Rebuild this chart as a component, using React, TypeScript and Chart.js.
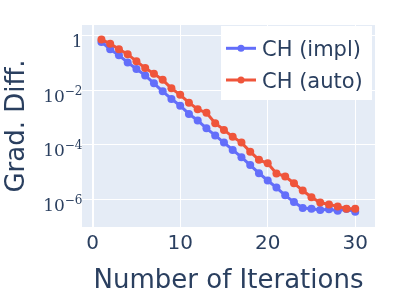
import React, { useEffect, useRef } from "react";
import { Chart, registerables } from "chart.js";

Chart.register(...registerables);

const iterations = [1, 2, 3, 4, 5, 6, 7, 8, 9, 10, 11, 12, 13, 14, 15, 16, 17, 18, 19, 20, 21, 22, 23, 24, 25, 26, 27, 28, 29, 30];

const implValues = [
  0.59, 0.32, 0.19, 0.105, 0.06, 0.035, 0.018, 0.0091, 0.0048, 0.0027,
  1.35e-3, 7.8e-4, 4.0e-4, 2.2e-4, 1.2e-4, 6.5e-5, 3.5e-5, 1.8e-5, 9.1e-6, 4.9e-6,
  2.7e-6, 1.4e-6, 7.9e-7, 4.8e-7, 4.5e-7, 4.1e-7, 4.3e-7, 3.8e-7, 4.4e-7, 3.5e-7,
];

const autoValues = [
  0.72, 0.51, 0.32, 0.21, 0.115, 0.065, 0.04, 0.024, 0.0117, 0.0068,
  3.5e-3, 2.0e-3, 1.48e-3, 6.2e-4, 3.5e-4, 1.95e-4, 1.2e-4, 5.6e-5, 2.8e-5, 2.1e-5,
  8.9e-6, 6.9e-6, 3.9e-6, 2.1e-6, 1.19e-6, 7.6e-7, 6.5e-7, 5.5e-7, 4.5e-7, 4.5e-7,
];

const seriesNames = ["CH (impl)", "CH (auto)"];
const seriesColors = ["#636efa", "#ef553b"];

const xTicks = [0, 10, 20, 30];
const yTicks = [1e-6, 1e-4, 1e-2, 1];

const xTitle = "Number of Iterations";
const yTitle = "Grad. Diff.";

const TEXT = "#2a3f5f";

const decorPlugin = {
  id: "decor",
  beforeDraw(chart: any) {
    const { ctx, chartArea } = chart;
    ctx.save();
    ctx.fillStyle = "#ffffff";
    ctx.fillRect(0, 0, chart.width, chart.height);
    ctx.fillStyle = "#e5ecf6";
    ctx.fillRect(chartArea.left, chartArea.top, chartArea.right - chartArea.left, chartArea.bottom - chartArea.top);
    ctx.restore();
  },
  afterDraw(chart: any) {
    const { ctx, chartArea } = chart;
    const yScale = chart.scales.y;
    ctx.save();
    ctx.fillStyle = TEXT;
    // y tick labels with superscripts
    const rightX = chartArea.left + 0.5;
    for (const v of yTicks) {
      const py = yScale.getPixelForValue(v);
      const e = Math.round(Math.log10(v));
      const base = py + 11.5;
      ctx.textBaseline = "alphabetic";
      ctx.textAlign = "left";
      if (e === 0) {
        ctx.font = "17px 'DejaVu Serif'";
        const w = ctx.measureText("1").width;
        ctx.fillText("1", rightX - w, base);
      } else {
        const sup = (e < 0 ? "\u2212" : "") + Math.abs(e);
        ctx.font = "12px 'DejaVu Serif'";
        const ws = ctx.measureText(sup).width;
        ctx.font = "17px 'DejaVu Serif'";
        const wb = ctx.measureText("10").width;
        ctx.fillText("10", rightX - ws - wb, base);
        ctx.font = "12px 'DejaVu Serif'";
        ctx.fillText(sup, rightX - ws, base - 7);
      }
    }
    // axis titles
    ctx.font = "26px 'DejaVu Sans'";
    ctx.textAlign = "center";
    ctx.textBaseline = "alphabetic";
    ctx.fillText(xTitle, (chartArea.left + chartArea.right) / 2, 288);
    ctx.save();
    ctx.translate(24, (chartArea.top + chartArea.bottom) / 2);
    ctx.rotate(-Math.PI / 2);
    ctx.fillText(yTitle, 0, 0);
    ctx.restore();
    // legend
    ctx.fillStyle = "#ffffff";
    ctx.fillRect(221, 26, 151, 74);
    const rows = [48.3, 80];
    chart.data.datasets.forEach((ds: any, i: number) => {
      const idx = seriesNames.indexOf(ds.label);
      const cy = rows[idx];
      ctx.strokeStyle = ds.borderColor;
      ctx.lineWidth = 3;
      ctx.beginPath();
      ctx.moveTo(226, cy);
      ctx.lineTo(256, cy);
      ctx.stroke();
      ctx.fillStyle = ds.borderColor;
      ctx.beginPath();
      ctx.arc(241, cy, 3.5, 0, Math.PI * 2);
      ctx.fill();
      ctx.fillStyle = TEXT;
      ctx.font = "21px 'DejaVu Sans'";
      ctx.textAlign = "left";
      ctx.fillText(ds.label, 262, cy + 7.7);
    });
    ctx.restore();
  },
};

export default function App() {
  const ref = useRef<HTMLCanvasElement | null>(null);
  useEffect(() => {
    if (!ref.current) return;
    const chart = new Chart(ref.current, {
      type: "line",
      data: {
        datasets: [
          {
            label: seriesNames[0],
            data: iterations.map((x, i) => ({ x, y: implValues[i] })),
            borderColor: seriesColors[0],
            backgroundColor: seriesColors[0],
            pointBackgroundColor: seriesColors[0],
            pointBorderColor: seriesColors[0],
            borderWidth: 3,
            pointRadius: 4,
            pointBorderWidth: 0,
            tension: 0,
            order: 1,
          },
          {
            label: seriesNames[1],
            data: iterations.map((x, i) => ({ x, y: autoValues[i] })),
            borderColor: seriesColors[1],
            backgroundColor: seriesColors[1],
            pointBackgroundColor: seriesColors[1],
            pointBorderColor: seriesColors[1],
            borderWidth: 3,
            pointRadius: 4,
            pointBorderWidth: 0,
            tension: 0,
            order: 0,
          },
        ],
      },
      options: {
        responsive: false,
        animation: false,
        events: [],
        layout: { padding: { top: 25, right: 25, left: 0, bottom: 0 } },
        plugins: { legend: { display: false }, tooltip: { enabled: false } },
        scales: {
          x: {
            type: "linear",
            min: -1.22,
            max: 32.26,
            afterBuildTicks: (s: any) => {
              s.ticks = xTicks.map((v) => ({ value: v }));
            },
            afterFit: (s: any) => {
              s.height = 73;
            },
            grid: {
              color: "#ffffff",
              lineWidth: (c: any) => (c.tick && c.tick.value === 0 ? 2 : 1),
              drawTicks: false,
            },
            border: { display: false },
            ticks: {
              font: { family: "DejaVu Sans", size: 20 },
              color: TEXT,
              padding: 5,
              maxRotation: 0,
              autoSkip: false,
            },
          },
          y: {
            type: "logarithmic",
            min: 9.66e-8,
            max: 2.466,
            afterBuildTicks: (s: any) => {
              s.ticks = yTicks.map((v) => ({ value: v }));
            },
            afterFit: (s: any) => {
              s.width = 82;
            },
            grid: { color: "#ffffff", lineWidth: 1, drawTicks: false },
            border: { display: false },
            ticks: { display: false },
          },
        },
      },
      plugins: [decorPlugin],
    } as any);
    return () => chart.destroy();
  }, []);
  return (
    <div style={{ position: "absolute", left: 0, top: 0, width: 400, height: 300 }}>
      <canvas ref={ref} width={400} height={300} style={{ display: "block" }} />
    </div>
  );
}
